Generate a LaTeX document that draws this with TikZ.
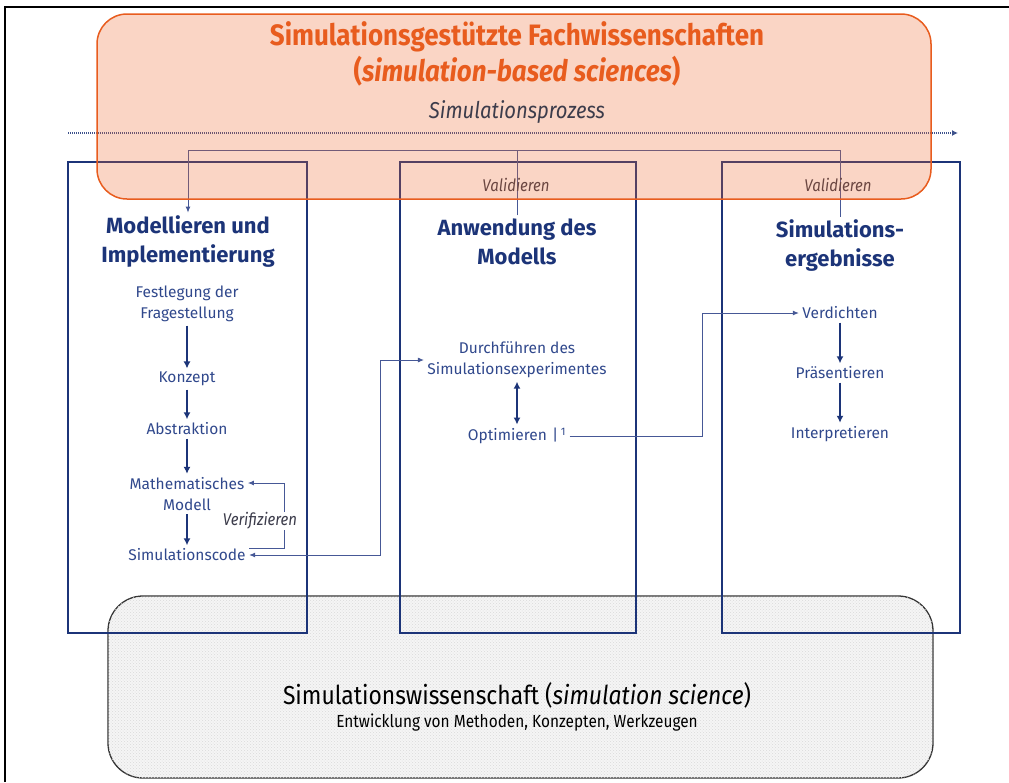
\documentclass[tikz,border=0pt]{standalone}
\usepackage{fontspec}
\setmainfont{Fira Sans}
\newfontfamily\condfont[FakeStretch=0.88]{Fira Sans}
\usepackage{tikz}
\usetikzlibrary{arrows.meta,patterns}
\definecolor{navy}{RGB}{28,52,120}
\definecolor{itemblue}{RGB}{48,72,140}
\definecolor{linkblue}{RGB}{70,88,150}
\definecolor{hotorange}{RGB}{232,92,30}
\definecolor{orangefill}{RGB}{235,100,40}
\definecolor{darktext}{RGB}{60,60,75}

\begin{document}
\begin{tikzpicture}[x=1pt, y=-1pt,
  colbox/.style={draw=navy, line width=1.4pt},
  item/.style={text=itemblue, align=center, font=\fontsize{15.5}{21}\selectfont},
  head/.style={text=navy, align=center, font=\fontsize{22}{29}\selectfont\bfseries},
  flowarr/.style={draw=navy, line width=1.4pt, -{Latex[length=7pt,width=7pt]}},
  link/.style={draw=linkblue, line width=0.9pt},
  note/.style={text=darktext, font=\condfont\fontsize{17}{20}\selectfont\itshape}]
\useasboundingbox (0,0) rectangle (1009,782);
\draw[line width=1.5pt] (5,782) -- (5,7) -- (1009,7);
% base: simulation science
\draw[draw=black!80, line width=1.3pt, rounded corners=35pt, fill=gray!8,
  postaction={pattern=crosshatch dots, pattern color=gray!30}] (108,596) rectangle (933,778);
\node[font=\condfont\fontsize{26}{30}\selectfont] (wiss) at (517,695) {Simulationswissenschaft (\textit{simulation science})};
\node[font=\condfont\fontsize{17.5}{20}\selectfont] (entw) at (517,723) {Entwicklung von Methoden, Konzepten, Werkzeugen};
% the three columns
\foreach \a/\b in {68/307, 400/636, 722/960} { \draw[colbox] (\a,162) rectangle (\b,633); }
\node[head] (t1) at (188,242) {Modellieren und\\Implementierung};
\node[head] (t2) at (517,242) {Anwendung des\\Modells};
\node[head] (t3) at (840,246) {Simulations-\\ergebnisse};
\foreach \n/\x/\y/\t in {fest/187/304/{Festlegung der\\Fragestellung}, konz/187/379/Konzept, abst/187/429/Abstraktion,
  mathm/187/494/{Mathematisches\\Modell}, simcode/187/555/Simulationscode,
  durch/517/360/{Durchführen des\\Simulationsexperimentes}, opti/517/436/{Optimieren\,\,|\,\textsuperscript{1}},
  verd/840/313/Verdichten, praes/840/373/Präsentieren, interp/840/434/Interpretieren}
  { \node[item] (\n) at (\x,\y) {\t}; }
\foreach \a/\b in {fest/konz, konz/abst, abst/mathm, mathm/simcode, verd/praes, praes/interp} { \draw[flowarr] (\a) -- (\b); }
\draw[flowarr, {Latex[length=7pt,width=7pt]}-{Latex[length=7pt,width=7pt]}] (durch) -- (opti);
% verifying, routing between columns
\coordinate (vloop) at (284,0);
\coordinate (route1) at (380,0);
\coordinate (route2) at (702,0);
\coordinate (codeout) at ([yshift=7pt]simcode.east);
\coordinate (mathin) at ([yshift=11pt]mathm.east);
\draw[link, -{Latex[length=6pt,width=5pt]}] (codeout) -| (vloop |- mathin) -- (mathin);
\node[note, fill=white, inner sep=1pt] (verif) at (260,521) {Verifizieren};
\draw[link, {Latex[length=6pt,width=5pt]}-{Latex[length=6pt,width=5pt]}] (simcode.east) -| (route1 |- durch.west) -- (durch.west);
\draw[link, -{Latex[length=6pt,width=5pt]}] (opti.east) -| (route2 |- verd.west) -- (verd.west);
% validating
\coordinate (vtop) at (0,150);
\draw[link, -{Latex[length=6pt,width=5pt]}] (t3.north) -- (t3.north |- vtop) -| (t1.north);
\draw[link] (t2.north) -- (t2.north |- vtop);
\node[note] (val2) at (516,185) {Validieren};
\node[note] (val3) at (838,185) {Validieren};
% process arrow
\coordinate (pstart) at (68,133);
\coordinate (pend) at (958,133);
\draw[navy!85, line width=1.5pt, dash pattern=on 1pt off 1pt, -{Latex[length=6pt,width=6pt]}] (pstart) -- (pend);
% simulation-based sciences on top
\draw[draw=hotorange, line width=1.5pt, fill=orangefill, fill opacity=0.27, rounded corners=30pt] (97,14) rectangle (931,199);
\node[text=hotorange, font=\condfont\fontsize{29.5}{34}\selectfont\bfseries] (fach) at (517,37) {Simulationsgestützte Fachwissenschaften};
\node[text=hotorange, font=\condfont\fontsize{29.5}{34}\selectfont\bfseries] (fachen) at (517,71) {(\textit{simulation-based sciences})};
\node[text=darktext, font=\condfont\fontsize{23}{27}\selectfont\itshape] (prozess) at (517,112) {Simulationsprozess};
\end{tikzpicture}
\end{document}
